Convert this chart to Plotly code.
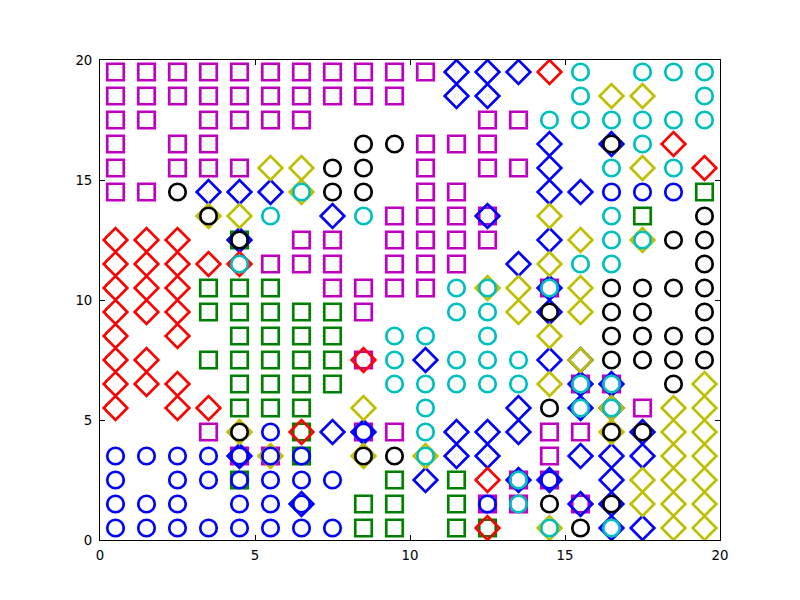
import plotly.graph_objects as go

# ---- data: (x, y) positions of each marker series ----
magenta_squares = [
    (0.5,19.5),(1.5,19.5),(2.5,19.5),(3.5,19.5),(4.5,19.5),(5.5,19.5),(6.5,19.5),(7.5,19.5),(8.5,19.5),(9.5,19.5),(10.5,19.5),
    (0.5,18.5),(1.5,18.5),(2.5,18.5),(3.5,18.5),(4.5,18.5),(5.5,18.5),(6.5,18.5),(7.5,18.5),(8.5,18.5),(9.5,18.5),
    (0.5,17.5),(1.5,17.5),(3.5,17.5),(4.5,17.5),(5.5,17.5),(6.5,17.5),(12.5,17.5),(13.5,17.5),
    (0.5,16.5),(2.5,16.5),(3.5,16.5),(10.5,16.5),(11.5,16.5),(12.5,16.5),
    (0.5,15.5),(2.5,15.5),(3.5,15.5),(4.5,15.5),(10.5,15.5),(12.5,15.5),(13.5,15.5),
    (0.5,14.5),(1.5,14.5),(10.5,14.5),(11.5,14.5),
    (9.5,13.5),(10.5,13.5),(11.5,13.5),(12.5,13.5),
    (6.5,12.5),(7.5,12.5),(9.5,12.5),(10.5,12.5),(11.5,12.5),(12.5,12.5),
    (5.5,11.5),(6.5,11.5),(7.5,11.5),(9.5,11.5),(10.5,11.5),(11.5,11.5),
    (7.5,10.5),(8.5,10.5),(9.5,10.5),(10.5,10.5),(14.5,10.5),
    (8.5,9.5),(8.5,7.5),(15.5,6.5),(16.5,6.5),(17.5,5.5),
    (3.5,4.5),(8.5,4.5),(9.5,4.5),(14.5,4.5),(15.5,4.5),
    (4.5,3.5),(5.5,3.5),(14.5,3.5),
    (13.5,2.5),(14.5,2.5),
    (12.5,1.5),(13.5,1.5),(15.5,1.5),
]
green_squares = [
    (19.5,14.5),(17.5,13.5),(4.5,12.5),
    (3.5,10.5),(4.5,10.5),(5.5,10.5),
    (3.5,9.5),(4.5,9.5),(5.5,9.5),(6.5,9.5),(7.5,9.5),
    (4.5,8.5),(5.5,8.5),(6.5,8.5),(7.5,8.5),
    (3.5,7.5),(4.5,7.5),(5.5,7.5),(6.5,7.5),(7.5,7.5),
    (4.5,6.5),(5.5,6.5),(6.5,6.5),(7.5,6.5),
    (4.5,5.5),(5.5,5.5),(6.5,5.5),
    (6.5,4.5),(6.5,3.5),
    (4.5,2.5),(9.5,2.5),(11.5,2.5),
    (8.5,1.5),(9.5,1.5),(11.5,1.5),
    (8.5,0.5),(9.5,0.5),(11.5,0.5),(12.5,0.5),
]
blue_diamonds = [
    (11.5,19.5),(12.5,19.5),(13.5,19.5),
    (11.5,18.5),(12.5,18.5),
    (14.5,16.5),(16.5,16.5),(14.5,15.5),
    (3.5,14.5),(4.5,14.5),(5.5,14.5),(14.5,14.5),(15.5,14.5),
    (7.5,13.5),(12.5,13.5),
    (4.5,12.5),(14.5,12.5),(13.5,11.5),(14.5,10.5),(14.5,9.5),
    (10.5,7.5),(14.5,7.5),(15.5,7.5),
    (15.5,6.5),(16.5,6.5),
    (13.5,5.5),(15.5,5.5),(16.5,5.5),
    (7.5,4.5),(8.5,4.5),(11.5,4.5),(12.5,4.5),(13.5,4.5),(17.5,4.5),
    (4.5,3.5),(11.5,3.5),(12.5,3.5),(15.5,3.5),(16.5,3.5),(17.5,3.5),
    (10.5,2.5),(13.5,2.5),(14.5,2.5),(16.5,2.5),
    (6.5,1.5),(15.5,1.5),(16.5,1.5),
    (16.5,0.5),(17.5,0.5),
]
red_diamonds = [
    (14.5,19.5),(18.5,16.5),(19.5,15.5),
    (0.5,12.5),(1.5,12.5),(2.5,12.5),
    (0.5,11.5),(1.5,11.5),(2.5,11.5),(3.5,11.5),(4.5,11.5),
    (0.5,10.5),(1.5,10.5),(2.5,10.5),
    (0.5,9.5),(1.5,9.5),(2.5,9.5),
    (0.5,8.5),(2.5,8.5),
    (0.5,7.5),(1.5,7.5),(8.5,7.5),
    (0.5,6.5),(1.5,6.5),(2.5,6.5),
    (0.5,5.5),(2.5,5.5),(3.5,5.5),
    (6.5,4.5),(12.5,2.5),(12.5,0.5),
]
yellow_diamonds = [
    (16.5,18.5),(17.5,18.5),
    (5.5,15.5),(6.5,15.5),(17.5,15.5),
    (6.5,14.5),
    (3.5,13.5),(4.5,13.5),(14.5,13.5),
    (15.5,12.5),(17.5,12.5),
    (14.5,11.5),
    (12.5,10.5),(13.5,10.5),(15.5,10.5),
    (13.5,9.5),(15.5,9.5),
    (14.5,8.5),(15.5,7.5),
    (14.5,6.5),(19.5,6.5),
    (8.5,5.5),(16.5,5.5),(18.5,5.5),(19.5,5.5),
    (4.5,4.5),(16.5,4.5),(18.5,4.5),(19.5,4.5),
    (5.5,3.5),(8.5,3.5),(10.5,3.5),(18.5,3.5),(19.5,3.5),
    (17.5,2.5),(18.5,2.5),(19.5,2.5),
    (17.5,1.5),(18.5,1.5),(19.5,1.5),
    (14.5,0.5),(18.5,0.5),(19.5,0.5),
]
blue_circles = [
    (16.5,14.5),(17.5,14.5),(18.5,14.5),
    (5.5,4.5),(8.5,4.5),
    (0.5,3.5),(1.5,3.5),(2.5,3.5),(3.5,3.5),(4.5,3.5),(5.5,3.5),(6.5,3.5),
    (0.5,2.5),(2.5,2.5),(3.5,2.5),(4.5,2.5),(5.5,2.5),(6.5,2.5),(7.5,2.5),(14.5,2.5),
    (0.5,1.5),(1.5,1.5),(2.5,1.5),(4.5,1.5),(5.5,1.5),(6.5,1.5),(12.5,1.5),
    (0.5,0.5),(1.5,0.5),(2.5,0.5),(3.5,0.5),(4.5,0.5),(5.5,0.5),(6.5,0.5),(7.5,0.5),
]
cyan_circles = [
    (15.5,19.5),(17.5,19.5),(18.5,19.5),(19.5,19.5),
    (15.5,18.5),(19.5,18.5),
    (14.5,17.5),(15.5,17.5),(16.5,17.5),(17.5,17.5),(18.5,17.5),(19.5,17.5),
    (17.5,16.5),(16.5,15.5),(18.5,15.5),
    (6.5,14.5),
    (5.5,13.5),(8.5,13.5),(16.5,13.5),
    (16.5,12.5),(17.5,12.5),
    (4.5,11.5),(15.5,11.5),(16.5,11.5),
    (11.5,10.5),(12.5,10.5),(14.5,10.5),
    (11.5,9.5),(12.5,9.5),
    (9.5,8.5),(10.5,8.5),(12.5,8.5),
    (9.5,7.5),(11.5,7.5),(12.5,7.5),(13.5,7.5),
    (9.5,6.5),(10.5,6.5),(11.5,6.5),(12.5,6.5),(13.5,6.5),(15.5,6.5),(16.5,6.5),
    (10.5,5.5),(15.5,5.5),(16.5,5.5),
    (10.5,4.5),(10.5,3.5),
    (13.5,2.5),(13.5,1.5),
    (14.5,0.5),(16.5,0.5),
]
black_circles = [
    (8.5,16.5),(9.5,16.5),(16.5,16.5),
    (7.5,15.5),(8.5,15.5),
    (2.5,14.5),(7.5,14.5),(8.5,14.5),
    (3.5,13.5),(19.5,13.5),
    (4.5,12.5),(18.5,12.5),(19.5,12.5),
    (19.5,11.5),
    (16.5,10.5),(17.5,10.5),(18.5,10.5),(19.5,10.5),
    (14.5,9.5),(16.5,9.5),(17.5,9.5),(19.5,9.5),
    (16.5,8.5),(17.5,8.5),(18.5,8.5),(19.5,8.5),
    (16.5,7.5),(17.5,7.5),(18.5,7.5),(19.5,7.5),
    (18.5,6.5),(14.5,5.5),
    (4.5,4.5),(16.5,4.5),(17.5,4.5),
    (8.5,3.5),(9.5,3.5),
    (14.5,1.5),(16.5,1.5),
    (15.5,0.5),
]

series = [
    (magenta_squares, "square", "#bf00bf"),
    (green_squares, "square", "#008000"),
    (blue_diamonds, "diamond", "#0000ff"),
    (red_diamonds, "diamond", "#ff0000"),
    (yellow_diamonds, "diamond", "#bfbf00"),
    (blue_circles, "circle", "#0000ff"),
    (cyan_circles, "circle", "#00bfbf"),
    (black_circles, "circle", "#000000"),
]
sizes = {"square": 16.5, "diamond": 18.2, "circle": 16.5}

fig = go.Figure()
for pts, sym, col in series:
    fig.add_trace(go.Scatter(
        x=[p[0] for p in pts], y=[p[1] for p in pts], mode="markers",
        marker=dict(symbol=sym + "-open", size=sizes[sym], color=col,
                    line=dict(width=2.7, color=col)),
        showlegend=False, hoverinfo="skip"))

axis = dict(range=[0, 20], tickvals=[0, 5, 10, 15, 20], showgrid=False, zeroline=False,
            showline=True, linecolor="black", linewidth=1, mirror="allticks",
            ticks="inside", ticklen=5, tickcolor="black", tickwidth=1,
            tickfont=dict(family="DejaVu Sans", size=13.3, color="black"))
fig.update_layout(
    width=800, height=600, margin=dict(l=100, r=80, t=60, b=60),
    paper_bgcolor="white", plot_bgcolor="white",
    xaxis=dict(axis), yaxis=dict(axis))
fig.update_xaxes(ticklabelstandoff=3)
fig.update_yaxes(ticklabelstandoff=4)
fig.write_html("out.html")
